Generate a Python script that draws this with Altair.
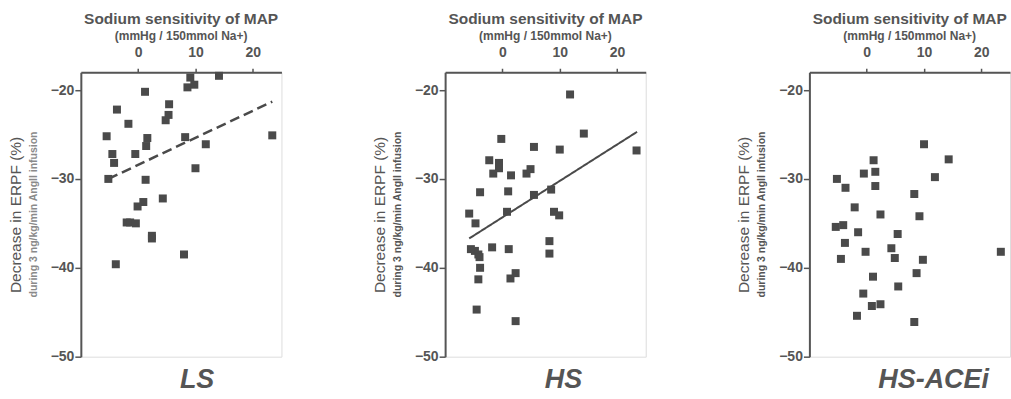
import altair as alt
import pandas as pd

# ---- data ----
ls_x = [9.1, 14.1, 8.6, 9.8, 1.2, 5.4, -3.7, 5.3, 4.8, -1.7, -5.5, 1.6, 1.4, 8.2, 23.4, 11.8,
        -4.5, -0.5, -4.2, 10.0, -5.2, 1.3, 4.3, 0.9, -0.1, -2.0, -1.4, -0.4, 2.4, 2.4, 8.0, -3.9]
ls_y = [-18.6, -18.4, -19.7, -19.4, -20.2, -21.6, -22.2, -22.8, -23.4, -23.8, -25.2, -25.4, -26.3,
        -25.3, -25.1, -26.1, -27.2, -27.2, -28.2, -28.8, -30.0, -30.1, -32.2, -32.6, -33.1, -34.9,
        -34.9, -35.0, -36.4, -36.7, -38.5, -39.6]
ls_line_x = [-5.2, 23.4]
ls_line_y = [-30.0, -21.3]

hs_x = [11.8, 14.2, -0.2, 5.5, 10.0, 23.4, -2.3, -0.6, -0.6, -1.6, 1.5, 4.2, 4.9, 8.5, -3.9, 1.0,
        5.5, -5.8, 0.8, 9.0, 9.9, -4.7, -5.5, -4.8, -4.2, -4.0, -1.8, 1.1, 8.2, 8.2, -3.9, -4.2,
        1.4, 2.3, -4.5, 2.3]
hs_y = [-20.5, -24.9, -25.5, -26.4, -26.7, -26.8, -27.9, -28.2, -28.8, -29.4, -29.6, -29.4, -28.9,
        -31.2, -31.5, -31.4, -31.8, -33.9, -33.7, -33.7, -34.1, -35.0, -37.9, -38.1, -38.5, -38.8,
        -37.7, -37.9, -37.0, -38.4, -40.0, -41.3, -41.2, -40.6, -44.7, -46.0]
hs_line_x = [-5.8, 23.5]
hs_line_y = [-36.7, -24.7]

acei_x = [10.0, 14.3, 1.2, -0.5, 1.5, 11.9, -5.2, -3.7, 1.5, 8.3, -2.1, 2.4, 9.2, -5.4, -4.1, -1.5,
          5.4, -3.8, -0.2, 4.3, 23.4, -4.5, 4.9, 9.8, 1.1, 8.7, 5.5, -0.6, 0.9, 2.4, -1.7, 8.3]
acei_y = [-26.1, -27.8, -27.9, -29.4, -29.2, -29.8, -30.0, -31.0, -30.8, -31.7, -33.2, -34.0, -34.2,
          -35.4, -35.2, -36.0, -36.2, -37.2, -38.2, -37.8, -38.2, -39.0, -38.9, -39.1, -41.0, -40.6,
          -42.1, -42.9, -44.3, -44.1, -45.4, -46.1]

x_ticks = [0, 10, 20]
y_ticks = [-20, -30, -40, -50]
x_domain = [-10, 25]
y_domain = [-50, -18]

W, H = 201, 285
GRAY = "#555555"
PT = "#4a4a4a"
FONT = "Liberation Sans"


def panel(xs, ys, label, label_dx, line=None, dashed=False, sub_color="#555555"):
    df = pd.DataFrame({"x": xs, "y": ys})
    xenc = alt.X("x:Q", scale=alt.Scale(domain=x_domain, nice=False, zero=False),
                 axis=alt.Axis(orient="top", values=x_ticks, title=None, grid=False,
                               domainColor=GRAY, domainWidth=2, tickColor=GRAY, tickWidth=1.5,
                               tickSize=4, labelPadding=9, labelFont=FONT, labelFontSize=14,
                               labelFontWeight="bold", labelColor=GRAY))
    yenc = alt.Y("y:Q", scale=alt.Scale(domain=y_domain, nice=False, zero=False),
                 axis=alt.Axis(orient="left", values=y_ticks, title="Decrease in ERPF  (%)",
                               grid=False, domainColor=GRAY, domainWidth=2, tickColor=GRAY,
                               tickWidth=1.5, tickSize=6, labelPadding=1, labelFont=FONT,
                               labelFontSize=14, labelFontWeight="bold", labelColor=GRAY,
                               titleFont=FONT, titleFontSize=15.5, titleFontWeight="normal",
                               titleColor=GRAY, titlePadding=27))
    pts = alt.Chart(df).mark_square(size=64, color=PT, opacity=1).encode(x=xenc, y=yenc)
    layers = [pts]
    if line is not None:
        ldf = pd.DataFrame({"x": line[0], "y": line[1]})
        lm = alt.Chart(ldf).mark_line(color=PT, strokeWidth=2.5 if dashed else 2,
                                      strokeDash=[10, 5] if dashed else [1, 0]).encode(
            x=alt.X("x:Q"), y=alt.Y("y:Q"))
        layers.append(lm)
    lab = alt.Chart(pd.DataFrame({"t": [label]})).mark_text(
        font=FONT, fontSize=27, fontWeight="bold", fontStyle="italic", color=GRAY,
        align="center", baseline="alphabetic").encode(
        text="t:N", x=alt.value(W / 2 + label_dx), y=alt.value(H + 31))
    sub = alt.Chart(pd.DataFrame({"t": ["during 3 ng/kg/min AngII infusion"]})).mark_text(
        font=FONT, fontSize=10.5, fontWeight="bold", color=sub_color, angle=270,
        align="center", baseline="middle").encode(
        text="t:N", x=alt.value(-47), y=alt.value(H / 2))
    layers += [lab, sub]
    return alt.layer(*layers).properties(
        width=W, height=H,
        title=alt.TitleParams(text="Sodium sensitivity of MAP", subtitle="(mmHg / 150mmol Na+)",
                              font=FONT, fontSize=15.5, fontWeight="bold", color=GRAY,
                              subtitleFont=FONT, subtitleFontSize=12, subtitleFontWeight="bold",
                              subtitleColor=GRAY, subtitlePadding=4, anchor="middle",
                              frame="group", offset=3))


p1 = panel(ls_x, ls_y, "LS", 16, (ls_line_x, ls_line_y), dashed=True, sub_color="#8a8a8a")
p2 = panel(hs_x, hs_y, "HS", 18, (hs_line_x, hs_line_y))
p3 = panel(acei_x, acei_y, "HS-ACEi", 24)

chart = alt.hconcat(p1, p2, p3, spacing=89).properties(
    padding={"left": 7, "top": 11, "right": 0, "bottom": 0}
).configure_view(stroke=None).configure(background="white")

chart.save("out.html", embed_options={"renderer": "svg", "actions": False})
